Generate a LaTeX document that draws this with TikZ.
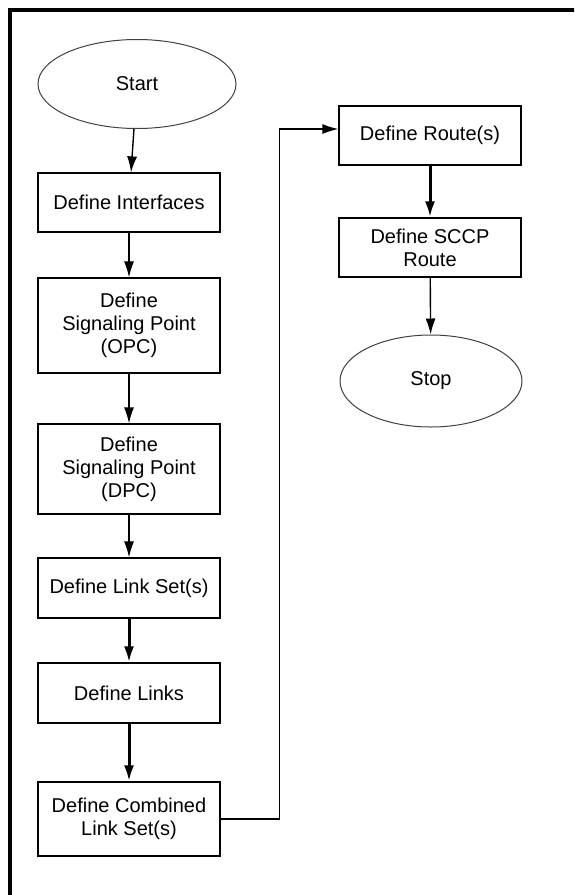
\documentclass[tikz,border=0pt]{standalone}
\usepackage{fontspec}
\setmainfont{Liberation Sans}
\usetikzlibrary{shapes.geometric,arrows.meta}
\def\boxwidth{91pt}

\begin{document}
\begin{tikzpicture}[x=0.5pt,y=-0.5pt,->,>={Latex[length=8pt,width=5pt]},line width=0.7pt]
    \tikzstyle{task}=[rectangle,draw,line width=0.6pt,minimum width=\boxwidth,minimum height=29.5pt,inner sep=0pt,align=center,font=\fontsize{10pt}{11.5pt}\selectfont]
    \tikzstyle{terminal}=[ellipse,draw=black!75,line width=0.5pt,inner sep=0pt,font=\fontsize{10pt}{11.5pt}\selectfont]
    \tikzstyle{heavy}=[line width=1.5pt]

    \clip (0,0) rectangle (574,895);
    % outer frame
    \draw[-,line width=2pt] (10,10) rectangle (640,960);

    % left column
    \node[terminal, minimum width=99pt, minimum height=44.5pt] (start) at (137,84) {Start};
    \node[task] (iface) at (129,202.5) {Define Interfaces};
    \node[task, minimum height=47.5pt] (opc) at (129,325.5) {Define\\Signaling Point\\(OPC)};
    \node[task, minimum height=45pt] (dpc) at (129,469) {Define\\Signaling Point\\(DPC)};
    \node[task, minimum height=30pt] (lset) at (129,588) {Define Link Set(s)};
    \node[task, minimum height=30pt] (links) at (129,693) {Define Links};
    \node[task, minimum height=37pt] (comb) at (129,819) {Define Combined\\Link Set(s)};

    % right column
    \node[task] (route) at (430,135.5) {Define Route(s)};
    \node[task] (sccp) at (430,247.5) {Define SCCP\\Route};
    \node[terminal, minimum width=91pt, minimum height=46pt] (stop) at (431,381) {Stop};

    \draw (start) -- (iface);
    \draw (iface) -- (opc);
    \draw (opc) -- (dpc);
    \draw (dpc) -- (lset);
    \draw[heavy] (lset) -- (links);
    \draw[heavy] (links) -- (comb);
    \draw (comb.east) -- ++(59,0) |- ([yshift=3.25pt]route.west);
    \draw[heavy] (route) -- (sccp);
    \draw (sccp) -- (stop);
\end{tikzpicture}
\end{document}
